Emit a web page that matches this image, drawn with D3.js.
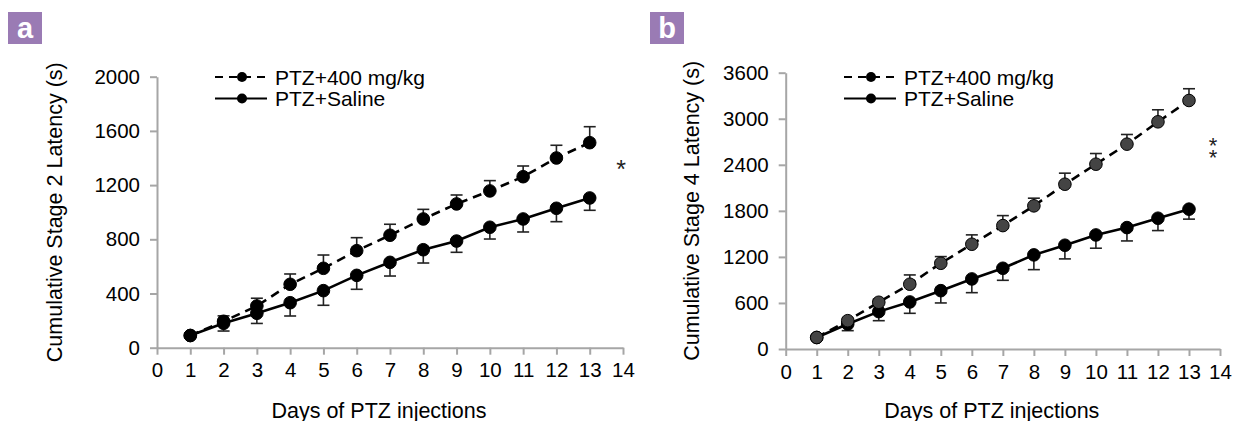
<!DOCTYPE html>
<html>
<head>
<meta charset="utf-8">
<script src="https://cdn.jsdelivr.net/npm/d3@7"></script>
<style>
  body { margin: 0; background: #fff; }
  svg text { font-family: "Liberation Sans", Arial, sans-serif; }
</style>
</head>
<body>
<svg id="frame"></svg>
<script>
const width = 1234;
const height = 421;

// data
const days = [1, 2, 3, 4, 5, 6, 7, 8, 9, 10, 11, 12, 13];
const xTicks = [0, 1, 2, 3, 4, 5, 6, 7, 8, 9, 10, 11, 12, 13, 14];

const a400 = [90, 195, 308, 468, 586, 716, 830, 950, 1061, 1157, 1262, 1400, 1513];
const a400Err = [0, 40, 57, 76, 98, 96, 81, 71, 66, 76, 79, 94, 118];
const aSal = [90, 180, 254, 332, 421, 534, 630, 723, 787, 889, 950, 1029, 1105];
const aSalErr = [0, 57, 75, 98, 108, 103, 101, 98, 83, 87, 96, 99, 91];
const aTicks = [0, 400, 800, 1200, 1600, 2000];

const b400 = [150, 369, 609, 844, 1117, 1365, 1608, 1865, 2147, 2408, 2669, 2960, 3238];
const b400Err = [0, 30, 40, 121, 87, 122, 130, 100, 144, 139, 126, 157, 153];
const bSal = [150, 326, 487, 613, 760, 913, 1052, 1226, 1352, 1486, 1582, 1704, 1822];
const bSalErr = [0, 87, 118, 148, 160, 179, 157, 192, 178, 173, 174, 161, 130];
const bTicks = [0, 600, 1200, 1800, 2400, 3000, 3600];

const legendNames = ['PTZ+400 mg/kg', 'PTZ+Saline'];

const svg = d3.select('#frame')
  .attr('width', width)
  .attr('height', height);

function drawPanel(p) {
  const xScale = d3.scaleLinear().domain([0, 14]).range([p.left, p.right]);
  const yScale = d3.scaleLinear().domain([0, p.yMax]).range([p.bottom, p.top]);

  const g = svg.append('g');

  // panel letter
  g.append('rect')
    .attr('x', p.boxX).attr('y', 12)
    .attr('width', 34).attr('height', 32)
    .attr('fill', '#9a7bb4');
  g.append('text')
    .attr('x', p.boxX + 17).attr('y', 38)
    .attr('text-anchor', 'middle')
    .attr('fill', '#fff')
    .attr('font-size', 29)
    .attr('font-weight', 'bold')
    .text(p.letter);

  // axes
  const yaxis = d3.axisLeft(yScale).tickValues(p.yTicks).tickFormat(d3.format('d'))
    .tickSize(7).tickPadding(10).tickSizeOuter(0);
  const xaxis = d3.axisBottom(xScale).tickValues(xTicks).tickFormat(d3.format('d'))
    .tickSize(7).tickPadding(8).tickSizeOuter(0);

  const gy = g.append('g').attr('transform', `translate(${p.left},0)`).call(yaxis);
  const gx = g.append('g').attr('transform', `translate(0,${p.bottom})`).call(xaxis);
  [gx, gy].forEach(a => {
    a.select('.domain').attr('stroke', '#a6a6a6').attr('stroke-width', 2);
    a.selectAll('.tick line').attr('stroke', '#a6a6a6').attr('stroke-width', 2);
    a.selectAll('.tick text').attr('font-size', 20.5).attr('fill', '#000')
      .attr('font-family', '"Liberation Sans", Arial, sans-serif');
  });

  // titles
  g.append('text')
    .attr('transform', `translate(${p.yTitleX},${(p.top + p.bottom) / 2}) rotate(-90)`)
    .attr('text-anchor', 'middle')
    .attr('font-size', 21.5)
    .text(p.yTitle);
  g.append('text')
    .attr('x', (p.left + p.right) / 2 - 11)
    .attr('y', 418)
    .attr('text-anchor', 'middle')
    .attr('font-size', 21.5)
    .text('Days of PTZ injections');

  const series = [
    {vals: p.drug, err: p.drugErr, dir: -1, dash: '9,6', fill: p.drugFill},
    {vals: p.sal, err: p.salErr, dir: 1, dash: null, fill: '#000'}
  ];

  // error bars (drug upward, saline downward)
  series.forEach(s => {
    const eb = g.append('g').attr('stroke', '#222').attr('stroke-width', 1.6);
    days.forEach((d, i) => {
      if (!s.err[i]) return;
      const x = xScale(d);
      const y0 = yScale(s.vals[i]);
      const y1 = yScale(s.vals[i] - s.dir * s.err[i]);
      eb.append('line').attr('x1', x).attr('x2', x).attr('y1', y0).attr('y2', y1);
      eb.append('line').attr('x1', x - 6).attr('x2', x + 6).attr('y1', y1).attr('y2', y1);
    });
  });

  const line = d3.line().x((d, i) => xScale(days[i])).y(d => yScale(d));
  series.forEach(s => {
    g.append('path')
      .datum(s.vals)
      .attr('d', line)
      .attr('fill', 'none')
      .attr('stroke', '#000')
      .attr('stroke-width', 2.6)
      .attr('stroke-dasharray', s.dash);
  });
  series.slice().reverse().forEach(s => {
    g.selectAll(null)
      .data(s.vals)
      .enter()
      .append('circle')
      .attr('cx', (d, i) => xScale(days[i]))
      .attr('cy', d => yScale(d))
      .attr('r', 6.3)
      .attr('fill', s.fill)
      .attr('stroke', '#000')
      .attr('stroke-width', 1);
  });

  // legend
  const lg = g.append('g');
  legendNames.forEach((name, i) => {
    const y = 77 + i * 21.5;
    lg.append('line')
      .attr('x1', p.legX).attr('x2', p.legX + 52)
      .attr('y1', y).attr('y2', y)
      .attr('stroke', '#000').attr('stroke-width', 2.2)
      .attr('stroke-dasharray', i === 0 ? '8,6' : null);
    lg.append('circle')
      .attr('cx', p.legX + 27).attr('cy', y).attr('r', 5)
      .attr('fill', '#000');
    lg.append('text')
      .attr('x', p.legX + 60).attr('y', y + 7.5)
      .attr('font-size', 21)
      .text(name);
  });

  // significance marks, stacked vertically
  p.stars.forEach(sy => {
    g.append('text')
      .attr('x', p.starX).attr('y', sy + 10)
      .attr('text-anchor', 'middle')
      .attr('font-size', p.starSize)
      .attr('fill', '#222')
      .text('*');
  });
}

drawPanel({
  letter: 'a', boxX: 8,
  left: 157, right: 623, top: 76.7, bottom: 347.7,
  yMax: 2000, yTicks: aTicks,
  yTitle: 'Cumulative Stage 2 Latency (s)', yTitleX: 62,
  drug: a400, drugErr: a400Err, sal: aSal, salErr: aSalErr, drugFill: '#000',
  legX: 215, starX: 621, stars: [168], starSize: 25
});

drawPanel({
  letter: 'b', boxX: 650,
  left: 785.7, right: 1220, top: 72.7, bottom: 349,
  yMax: 3600, yTicks: bTicks,
  yTitle: 'Cumulative Stage 4 Latency (s)', yTitleX: 699,
  drug: b400, drugErr: b400Err, sal: bSal, salErr: bSalErr, drugFill: '#444',
  legX: 844, starX: 1213, stars: [143, 155], starSize: 22
});
</script>
</body>
</html>
